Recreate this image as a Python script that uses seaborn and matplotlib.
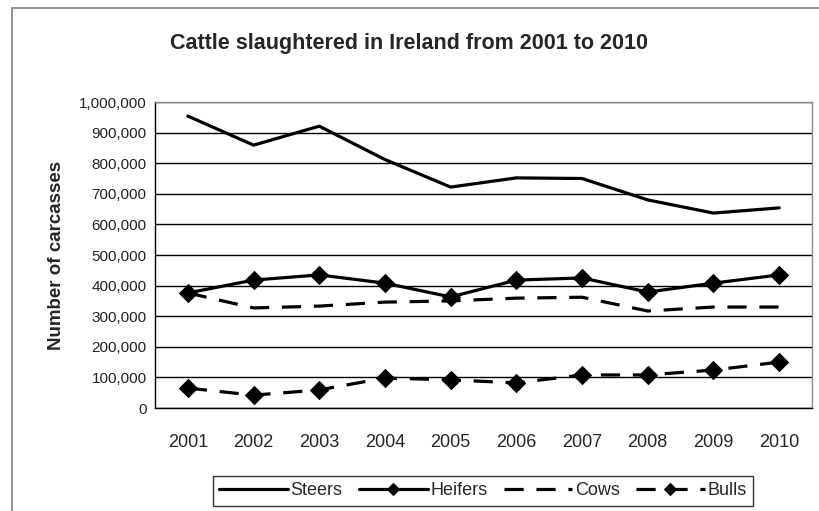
import numpy as np
import pandas as pd
import matplotlib
matplotlib.use("Agg")
import matplotlib.pyplot as plt
import matplotlib.ticker as mticker
from matplotlib.patches import Rectangle
import seaborn as sns

years = ["2001", "2002", "2003", "2004", "2005", "2006", "2007", "2008", "2009", "2010"]
steers = [954000, 859000, 921000, 812000, 722000, 752000, 750000, 680000, 637000, 654000]
heifers = [376000, 418000, 435000, 408000, 363000, 418000, 425000, 379000, 408000, 435000]
cows = [376000, 327000, 333000, 346000, 350000, 359000, 362000, 317000, 330000, 330000]
bulls = [65000, 42000, 59000, 98000, 92000, 82000, 108000, 108000, 124000, 150000]

sns.set_style("white")
plt.rcParams['font.family'] = ['Liberation Sans', 'DejaVu Sans']

df = pd.DataFrame({"pos": np.arange(len(years)), "Steers": steers, "Heifers": heifers,
                   "Cows": cows, "Bulls": bulls})

fig = plt.figure(figsize=(8.19, 5.11), dpi=100)
ax = fig.add_axes([155/819, 1 - 408/511, (812 - 155)/819, (408 - 102)/511])

# outer chart border
fig.patches.append(Rectangle((12/819, -0.05), 1.2, 1 - 8/511 + 0.05, transform=fig.transFigure,
                             fill=False, edgecolor="#808080", linewidth=1.2, zorder=0))

lw = 2.3
sns.lineplot(data=df, x="pos", y="Steers", ax=ax, color="black", linewidth=lw, label="Steers")
sns.lineplot(data=df, x="pos", y="Heifers", ax=ax, color="black", linewidth=lw,
             marker="D", markersize=9, label="Heifers")
sns.lineplot(data=df, x="pos", y="Cows", ax=ax, color="black", linewidth=lw, label="Cows")
sns.lineplot(data=df, x="pos", y="Bulls", ax=ax, color="black", linewidth=lw,
             marker="D", markersize=9, label="Bulls")
ax.lines[2].set_dashes([6, 4])
ax.lines[3].set_dashes([6, 4])
for ln in ax.lines:
    ln.set_markeredgecolor("black")
    ln.set_clip_on(False)

ax.set_xlim(-0.5, len(years) - 0.5)
ax.set_ylim(0, 1000000)
ax.set_yticks(np.arange(0, 1000001, 100000))
ax.yaxis.set_major_formatter(mticker.FuncFormatter(lambda v, p: f"{int(v):,}"))
ax.set_xticks(np.arange(len(years)))
ax.set_xticklabels(years, fontsize=13)
ax.set_xticks(np.arange(len(years) + 1) - 0.5, minor=True)
ax.tick_params(axis="x", which="major", length=0, pad=19)
ax.tick_params(axis="x", which="minor", length=5, width=1, color="black", direction="out")
ax.tick_params(axis="y", which="major", length=4, width=1, color="black", direction="inout",
               labelsize=11, labelcolor="#222222", pad=4)

ax.grid(axis="y", color="black", linewidth=1)
ax.set_axisbelow(True)
for s in ["top", "right"]:
    ax.spines[s].set_color("#8c8c8c")
    ax.spines[s].set_linewidth(1)
for s in ["left", "bottom"]:
    ax.spines[s].set_color("black")
    ax.spines[s].set_linewidth(1)

ax.set_xlabel("")
ax.set_ylabel("Number of carcasses", fontsize=13.5, fontweight="bold", labelpad=10)
fig.text(0.5, 1 - 44/511, "Cattle slaughtered in Ireland from 2001 to 2010",
         ha="center", va="center", fontsize=15.5, fontweight="bold")

handles, labels = ax.get_legend_handles_labels()
leg = ax.legend(handles, labels, loc="upper center", bbox_to_anchor=(483/819, 1 - 476/511),
                bbox_transform=fig.transFigure, ncol=4, frameon=True, fancybox=False,
                edgecolor="black", fontsize=13, handlelength=3.8, handletextpad=0.15,
                columnspacing=0.9, borderpad=0.35, borderaxespad=0, markerscale=0.7)
leg.get_frame().set_linewidth(1)

fig.savefig("out.png", dpi=100)
